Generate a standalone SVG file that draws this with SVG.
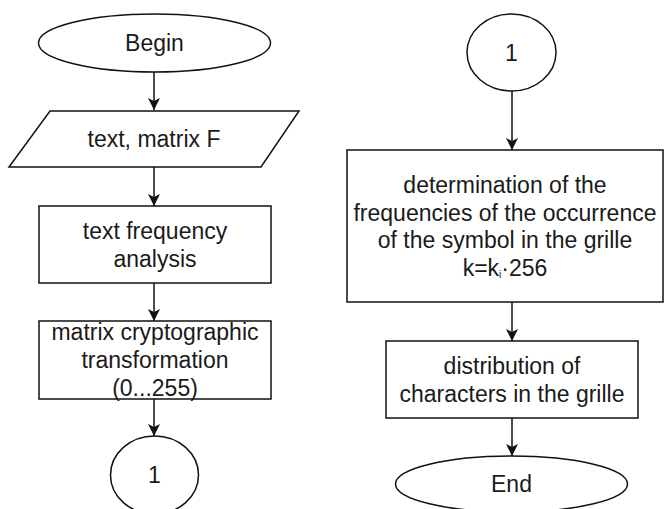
<svg xmlns="http://www.w3.org/2000/svg" width="664" height="509" viewBox="0 0 664 509">
<defs>
<style>
.s{fill:#fff;stroke:#111;stroke-width:1.5}
.t{font-family:"Liberation Sans",Arial,sans-serif;font-size:23px;fill:#1a1a1a;text-anchor:middle}
.c{stroke:#111;stroke-width:1.5;fill:none}
</style>
<marker id="a" markerUnits="userSpaceOnUse" markerWidth="14" markerHeight="14" refX="12" refY="6" orient="auto">
<path d="M0,0 L12,6 L0,12 L3,6 z" fill="#111"/>
</marker>
</defs>
<rect width="664" height="509" fill="#fff"/>
<g id="connectors">
<line class="c" x1="154" y1="72" x2="154" y2="110" marker-end="url(#a)"/>
<line class="c" x1="154" y1="167" x2="154" y2="206" marker-end="url(#a)"/>
<line class="c" x1="154" y1="283" x2="154" y2="321" marker-end="url(#a)"/>
<line class="c" x1="154" y1="399" x2="154" y2="436" marker-end="url(#a)"/>
<line class="c" x1="512" y1="91" x2="512" y2="150" marker-end="url(#a)"/>
<line class="c" x1="512" y1="302" x2="512" y2="341" marker-end="url(#a)"/>
<line class="c" x1="512" y1="418" x2="512" y2="456" marker-end="url(#a)"/>
</g>
<g id="begin">
<ellipse class="s" cx="154.5" cy="43" rx="116" ry="29"/>
<text class="t" x="154.5" y="51">Begin</text>
</g>
<g id="input">
<polygon class="s" points="50,111 299,111 261,167 9,167"/>
<text class="t" x="154" y="147">text, matrix F</text>
</g>
<g id="freq">
<rect class="s" x="39" y="206" width="232" height="77"/>
<text class="t" x="155" y="238.5">text frequency</text>
<text class="t" x="155" y="266.5">analysis</text>
</g>
<g id="transform">
<rect class="s" x="39" y="321" width="232" height="78"/>
<text class="t" x="155" y="340">matrix cryptographic</text>
<text class="t" x="155" y="368">transformation</text>
<text class="t" x="155" y="396">(0...255)</text>
</g>
<g id="conn1-left">
<ellipse class="s" cx="154.5" cy="475" rx="44" ry="39"/>
<text class="t" x="154.5" y="483">1</text>
</g>
<g id="conn1-right">
<ellipse class="s" cx="511.5" cy="52.5" rx="44.5" ry="38.5"/>
<text class="t" x="511.5" y="60.5">1</text>
</g>
<g id="determination">
<rect class="s" x="347" y="150" width="316" height="152"/>
<text class="t" x="505" y="192.5">determination of the</text>
<text class="t" x="505" y="220.5">frequencies of the occurrence</text>
<text class="t" x="505" y="248">of the symbol in the grille</text>
<text class="t" x="505" y="276">k=k<tspan font-size="10" dy="2">i</tspan><tspan dy="-2">·256</tspan></text>
</g>
<g id="distribution">
<rect class="s" x="386" y="341" width="252" height="77"/>
<text class="t" x="512" y="373.5">distribution of</text>
<text class="t" x="512" y="401.5">characters in the grille</text>
</g>
<g id="end">
<ellipse class="s" cx="511.5" cy="484" rx="116" ry="28"/>
<text class="t" x="511.5" y="492">End</text>
</g>
</svg>
